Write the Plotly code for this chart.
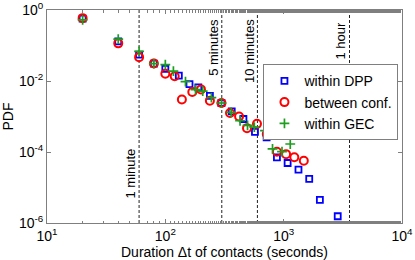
import numpy as np
import plotly.graph_objects as go

# ---- data ----
dpp_x = [20, 40, 60, 80, 100, 130, 160, 190, 238, 298, 364, 457, 572, 718, 877, 1080, 1334, 1644, 2023, 2863]
dpp_y = [0.57, 0.13, 0.055, 0.031, 0.022, 0.0141, 0.0082, 0.0066, 0.0038, 0.0024, 0.0014, 0.00085,
         0.00037, 0.00026, 7.1e-5, 4.9e-5, 3.2e-5, 1.74e-5, 4.5e-6, 1.55e-6]

conf_x = [20, 40, 60, 80, 100, 120, 138, 169, 200, 238, 298, 352, 420, 490, 595, 720, 877, 1048, 1230, 1480]
conf_y = [0.59, 0.115, 0.047, 0.031, 0.016, 0.0136, 0.0030, 0.0049, 0.0058, 0.0028, 0.0024, 0.00126,
          0.0010, 0.00047, 0.00062, 0.00032, 0.000102, 8.7e-5, 7.1e-5, 5.7e-5]

gec_x = [20, 40, 60, 80, 100, 117, 148, 180, 207, 245, 298, 360, 428, 495, 565, 695, 805, 968, 1137]
gec_y = [0.53, 0.152, 0.068, 0.031, 0.029, 0.019, 0.0096, 0.0057, 0.0052, 0.0034, 0.0024, 0.0013,
         0.00076, 0.00056, 0.0005, 0.0004, 0.000122, 0.000102, 0.000168]

series_names = ["within DPP", "between conf.", "within GEC"]

marker_times = [60, 300, 600, 3600]
marker_labels = ["1 minute", "5 minutes", "10 minutes", "1 hour"]
marker_label_top = [0.357, 0.967, 0.967, 0.955]   # paper y of label top

x_tickvals = [10, 100, 1000, 10000]
x_ticktext = ["10<sup>1</sup>", "10<sup>2</sup>", "10<sup>3</sup>", "10<sup>4</sup>"]
y_tickvals = [1, 1e-2, 1e-4, 1e-6]
y_ticktext = ["10<sup>0</sup>", "10<sup>-2</sup>", "10<sup>-4</sup>", "10<sup>-6</sup>"]

FONT = "Liberation Sans, Arial, Helvetica, sans-serif"
AXCOL = "#7f7f7f"

fig = go.Figure()

# vertical dashed reference lines
for t in marker_times:
    fig.add_trace(go.Scatter(x=[t, t], y=[1e-6, 1], mode="lines",
                             line=dict(color="#222222", width=1, dash="3px,2px"),
                             showlegend=False, hoverinfo="skip"))

fig.add_trace(go.Scatter(x=dpp_x, y=dpp_y, mode="markers", name=series_names[0],
                         marker=dict(symbol="square-open", size=6, color="#0000ff",
                                     line=dict(width=1.8, color="#0000ff"))))
fig.add_trace(go.Scatter(x=conf_x, y=conf_y, mode="markers", name=series_names[1],
                         marker=dict(symbol="circle-open", size=8, color="#ff0000",
                                     line=dict(width=2, color="#ff0000"))))
fig.add_trace(go.Scatter(x=gec_x, y=gec_y, mode="markers", name=series_names[2],
                         marker=dict(symbol="cross-thin-open", size=7, color="#1e9e1e",
                                     line=dict(width=1.7, color="#1e9e1e"))))

for t, lab, top in zip(marker_times, marker_labels, marker_label_top):
    fig.add_annotation(x=np.log10(t), y=top, xref="x", yref="paper", text=lab,
                       textangle=-90, showarrow=False, xanchor="right", yanchor="top",
                       xshift=1, font=dict(size=13, color="black", family=FONT))

fig.update_xaxes(type="log", range=[1, 4], tickvals=x_tickvals, ticktext=x_ticktext,
                 ticks="inside", ticklen=4, tickcolor=AXCOL, showline=True, linecolor=AXCOL,
                 linewidth=1, mirror="ticks", showgrid=False, zeroline=False, automargin=False,
                 minor=dict(ticks="inside", ticklen=2.5, tickcolor=AXCOL, showgrid=False),
                 title=dict(text="Duration \u0394t of contacts (seconds)", standoff=5,
                            font=dict(size=14, family=FONT, color="black")),
                 tickfont=dict(size=14, family=FONT, color="black"))
fig.update_yaxes(type="log", range=[-6, 0], tickvals=y_tickvals, ticktext=y_ticktext,
                 ticks="inside", ticklen=4, tickcolor=AXCOL, showline=True, linecolor=AXCOL,
                 linewidth=1, mirror="ticks", showgrid=False, zeroline=False, automargin=False,
                 title=dict(text="PDF", standoff=3,
                            font=dict(size=14, family=FONT, color="black")),
                 tickfont=dict(size=14, family=FONT, color="black"))

fig.update_layout(width=415, height=260, margin=dict(l=47, r=13, t=10, b=37),
                  paper_bgcolor="white", plot_bgcolor="white",
                  font=dict(family=FONT, size=14, color="black"),
                  legend=dict(x=0.99, y=0.745, xanchor="right", yanchor="top",
                              bgcolor="white", bordercolor=AXCOL, borderwidth=1,
                              font=dict(size=14, family=FONT, color="black"),
                              itemwidth=30, tracegroupgap=0),
                  showlegend=True)

fig.write_html("out.html", config={"displayModeBar": False},
               post_script="document.body.style.margin='0';document.body.style.overflow='hidden';")
